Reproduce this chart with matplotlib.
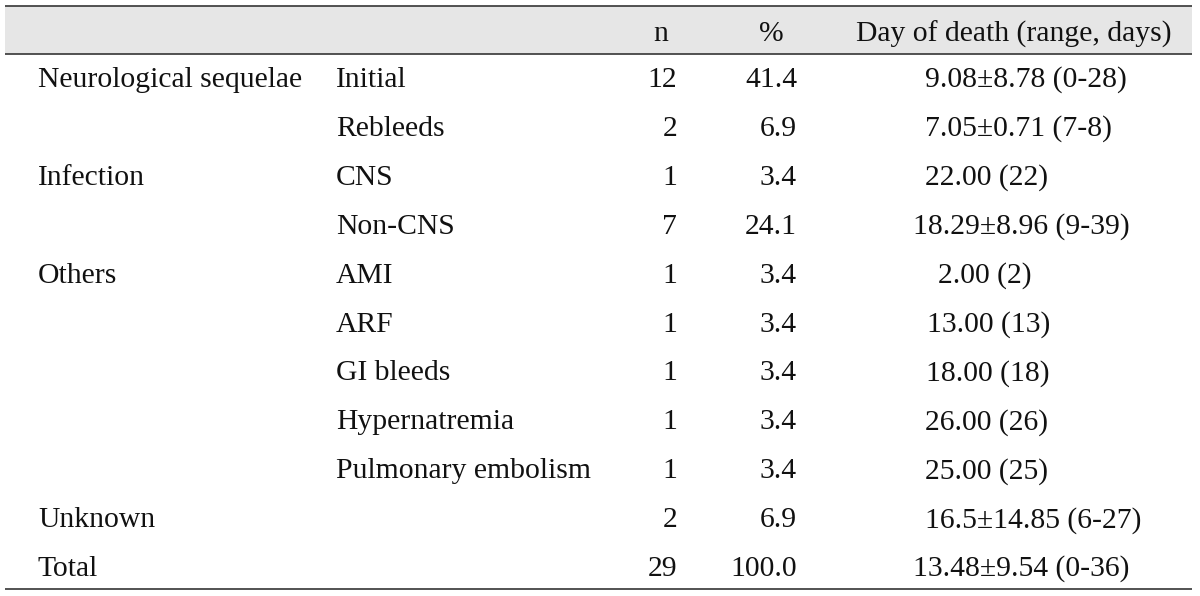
import matplotlib.pyplot as plt

# table content
group = ["Neurological sequelae", "", "Infection", "", "Others", "", "", "", "",
         "Unknown", "Total"]
cause = ["Initial", "Rebleeds", "CNS", "Non-CNS", "AMI", "ARF", "GI bleeds",
         "Hypernatremia", "Pulmonary embolism", "", ""]
n = [12, 2, 1, 7, 1, 1, 1, 1, 1, 2, 29]
pct = [41.4, 6.9, 3.4, 24.1, 3.4, 3.4, 3.4, 3.4, 3.4, 6.9, 100.0]
day = ["9.08±8.78 (0-28)", "7.05±0.71 (7-8)", "22.00 (22)", "18.29±8.96 (9-39)",
       "2.00 (2)", "13.00 (13)", "18.00 (18)", "26.00 (26)", "25.00 (25)",
       "16.5±14.85 (6-27)", "13.48±9.54 (0-36)"]
header = ["", "", "n", "%", "Day of death (range, days)"]

# left edge of each entry in the last column (pixels)
day_x = [925, 925, 925, 913, 938, 927, 926, 925, 925, 925, 913]

W, H = 1200, 596
fig = plt.figure(figsize=(W / 100, H / 100), dpi=100)
ax = fig.add_axes([0, 0, 1, 1])
ax.set_xlim(0, W)
ax.set_ylim(H, 0)
ax.axis("off")

font = dict(family="Liberation Serif", fontsize=21.3, color="#111111", va="center")

top, head_bot, bottom = 6, 54, 589
x0, x1 = 5, 1192
ax.fill_between([x0, x1], top, head_bot, color="#e6e6e6", lw=0)
for yy in (top, head_bot, bottom):
    ax.plot([x0, x1], [yy, yy], color="#444444", lw=1.3, solid_capstyle="butt")

hy = (top + head_bot) / 2 + 4
ax.text(661, hy, header[2], ha="center", **font)
ax.text(771, hy, header[3], ha="center", **font)
ax.text(1014, hy, header[4], ha="center", **font)

y_first, step = 80, 48.9
for i in range(len(n)):
    y = y_first + i * step
    ax.text(38, y, group[i], ha="left", **font)
    ax.text(336, y, cause[i], ha="left", **font)
    ax.text(677, y, str(n[i]), ha="right", **font)
    ax.text(797, y, f"{pct[i]:.1f}", ha="right", **font)
    ax.text(day_x[i], y, day[i], ha="left", **font)

fig.savefig("out.png", dpi=100)
